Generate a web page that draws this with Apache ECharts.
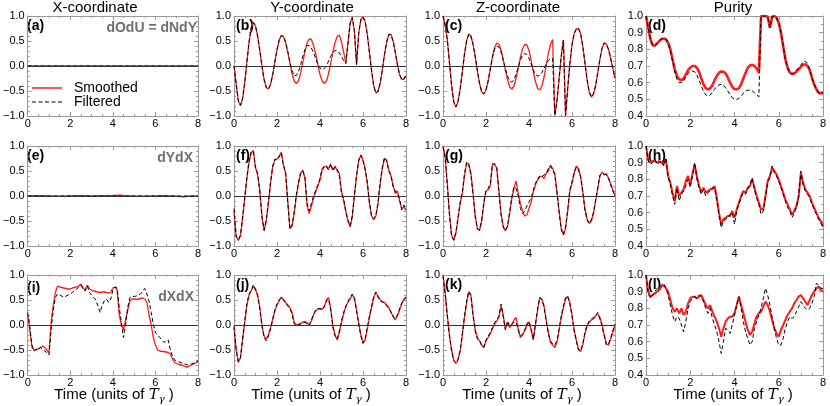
<!DOCTYPE html>
<html><head><meta charset="utf-8">
<script src="https://cdn.jsdelivr.net/npm/echarts@6/dist/echarts.min.js"></script>
<style>html,body{margin:0;padding:0;background:#fff}#c{width:830px;height:406px}</style>
</head><body><div id="c"></div>
<script>
// ---------- data ----------
const T = [0,0.1,0.2,0.3,0.4,0.5,0.6,0.7,0.8,0.9,1,1.1,1.2,1.3,1.4,1.5,1.6,1.7,1.8,1.9,2,2.1,2.2,2.3,2.4,2.5,2.6,2.7,2.8,2.9,3,3.1,3.2,3.3,3.4,3.5,3.6,3.7,3.8,3.9,4,4.1,4.2,4.3,4.4,4.5,4.6,4.7,4.8,4.9,5,5.1,5.2,5.3,5.4,5.5,5.6,5.7,5.8,5.9,6,6.1,6.2,6.3,6.4,6.5,6.6,6.7,6.8,6.9,7,7.1,7.2,7.3,7.4,7.5,7.6,7.7,7.8,7.9,8];
const T_ENDS = [0,8];
const TE = [0,0.5,1,1.5,2,2.5,3,3.5,4,4.3,4.6,5,5.5,6,6.5,7,7.3,7.6,8];

const COLUMN_TITLES = ['X-coordinate','Y-coordinate','Z-coordinate','Purity'];
const PANEL_LABELS = ['(a)','(b)','(c)','(d)','(e)','(f)','(g)','(h)','(i)','(j)','(k)','(l)'];
const ROW_NOTES = ['dOdU = dNdY','dYdX','dXdX'];
const LEGEND_NAMES = ['Smoothed','Filtered'];
const X_TICKS = [0,2,4,6,8];

// (a)
const A_S = [0,0];
const A_F = [0,0];
// (b)
const B_S = [0.00,-0.35,-0.70,-0.79,-0.65,-0.33,0.08,0.48,0.76,0.87,
 0.80,0.60,0.31,0.00,-0.27,-0.43,-0.46,-0.37,-0.17,0.08,
 0.32,0.52,0.61,0.59,0.47,0.28,0.06,-0.15,-0.30,-0.35,
 -0.30,-0.14,0.07,0.29,0.46,0.54,0.53,0.41,0.24,0.03,
 -0.17,-0.30,-0.35,-0.30,-0.15,0.06,0.28,0.47,0.59,0.62,
 0.48,0.28,0.06,0.45,0.85,0.97,0.70,0.03,0.65,0.93,
 0.98,0.89,0.63,0.27,-0.10,-0.40,-0.54,-0.51,-0.34,-0.07,
 0.23,0.48,0.63,0.63,0.50,0.28,0.03,-0.17,-0.27,-0.26,
 -0.20];
const B_F = [0.00,-0.35,-0.70,-0.79,-0.65,-0.33,0.08,0.48,0.76,0.87,
 0.80,0.60,0.31,0.00,-0.27,-0.43,-0.46,-0.37,-0.17,0.08,
 0.32,0.52,0.61,0.59,0.48,0.29,0.09,-0.09,-0.19,-0.19,
 -0.11,0.03,0.19,0.33,0.41,0.41,0.36,0.26,0.15,0.04,
 -0.04,-0.07,-0.05,0.01,0.10,0.19,0.27,0.31,0.31,0.26,
 0.19,0.11,0.05,0.45,0.85,0.97,0.70,0.03,0.65,0.93,
 0.98,0.89,0.63,0.27,-0.10,-0.40,-0.54,-0.51,-0.34,-0.07,
 0.23,0.48,0.63,0.63,0.50,0.28,0.03,-0.17,-0.27,-0.26,
 -0.20];
// (c)
const C_S = [1.00,0.82,0.53,0.07,-0.39,-0.72,-0.82,-0.71,-0.46,-0.11,
 0.24,0.51,0.64,0.60,0.43,0.18,-0.10,-0.35,-0.52,-0.56,
 -0.48,-0.30,-0.06,0.18,0.37,0.46,0.44,0.32,0.13,-0.08,
 -0.27,-0.42,-0.46,-0.40,-0.24,-0.04,0.17,0.34,0.43,0.42,
 0.31,0.11,-0.11,-0.31,-0.45,-0.48,-0.40,-0.22,0.01,0.25,
 0.43,0.53,-0.99,-0.70,-0.25,0.20,0.52,-0.99,-0.45,0.05,
 0.42,0.65,0.74,0.75,0.65,0.40,0.07,-0.27,-0.52,-0.62,
 -0.56,-0.39,-0.13,0.14,0.36,0.46,0.44,0.33,0.15,-0.05,
 -0.24];
const C_F = [1.00,0.82,0.53,0.07,-0.39,-0.72,-0.82,-0.71,-0.46,-0.11,
 0.24,0.51,0.64,0.60,0.43,0.18,-0.10,-0.35,-0.52,-0.56,
 -0.48,-0.30,-0.06,0.18,0.34,0.40,0.38,0.28,0.12,-0.05,
 -0.20,-0.30,-0.32,-0.28,-0.16,-0.02,0.12,0.22,0.25,0.23,
 0.15,0.04,-0.08,-0.17,-0.20,-0.19,-0.13,-0.05,0.04,0.11,
 0.15,0.15,-0.99,-0.70,-0.25,0.20,0.52,-0.99,-0.45,0.05,
 0.42,0.65,0.74,0.75,0.65,0.40,0.07,-0.27,-0.52,-0.62,
 -0.56,-0.39,-0.13,0.14,0.36,0.46,0.44,0.33,0.15,-0.05,
 -0.24];
// (d)
const D_S = [1.00,0.93,0.86,0.825,0.822,0.835,0.85,0.862,0.865,0.86,
 0.84,0.80,0.74,0.68,0.64,0.62,0.615,0.625,0.65,0.675,
 0.69,0.70,0.70,0.69,0.665,0.625,0.59,0.567,0.56,0.565,
 0.585,0.615,0.64,0.66,0.667,0.665,0.655,0.63,0.60,0.575,
 0.562,0.56,0.567,0.59,0.625,0.66,0.69,0.703,0.707,0.70,
 0.685,0.66,1.00,1.00,1.00,0.995,0.93,0.995,1.00,0.99,
 0.96,0.90,0.82,0.74,0.69,0.66,0.652,0.655,0.665,0.68,
 0.695,0.707,0.71,0.70,0.675,0.63,0.59,0.56,0.54,0.535,
 0.54];
const D_F = [1.00,0.93,0.86,0.825,0.822,0.835,0.85,0.862,0.865,0.86,
 0.835,0.79,0.73,0.665,0.62,0.60,0.60,0.61,0.635,0.655,
 0.668,0.67,0.665,0.645,0.615,0.58,0.55,0.527,0.52,0.525,
 0.54,0.56,0.577,0.587,0.59,0.585,0.57,0.55,0.527,0.51,
 0.502,0.50,0.505,0.52,0.537,0.55,0.555,0.555,0.55,0.54,
 0.527,0.515,1.00,1.00,1.00,0.995,0.93,0.995,1.00,0.99,
 0.96,0.90,0.82,0.74,0.69,0.66,0.652,0.66,0.675,0.69,
 0.705,0.725,0.73,0.715,0.68,0.63,0.59,0.56,0.54,0.535,
 0.54];
// (e)
const E_S = [0,0.005,0,-0.005,0,0.005,0,0.005,0.01,0.015,0.005,0,-0.005,0,0.005,-0.005,-0.015,-0.005,0];
const E_F = [0,0];
// (f)
const F_S = [-0.30,-0.80,-0.89,-0.80,-0.45,-0.05,0.35,0.68,0.86,0.91,
 0.58,0.42,0.12,-0.40,-0.70,-0.50,-0.15,0.25,0.58,0.72,
 0.74,0.78,0.88,0.62,0.45,-0.10,-0.65,-0.60,-0.35,0.00,
 0.25,0.45,0.52,0.35,-0.20,-0.35,-0.20,-0.05,0.08,0.20,
 0.32,0.52,0.58,0.60,0.55,0.62,0.52,0.60,0.50,0.45,
 0.10,-0.10,-0.30,-0.50,-0.62,-0.42,0.00,0.40,0.70,0.82,
 0.72,0.55,0.25,-0.15,-0.40,-0.48,-0.40,-0.15,0.25,0.55,
 0.75,0.72,0.52,0.40,0.22,0.05,0.10,-0.10,-0.25,-0.22,
 -0.28];
const F_F = [-0.25,-0.82,-0.87,-0.78,-0.42,-0.02,0.38,0.70,0.88,0.90,
 0.55,0.45,0.08,-0.42,-0.68,-0.48,-0.12,0.28,0.60,0.74,
 0.72,0.80,0.86,0.60,0.48,-0.12,-0.66,-0.58,-0.32,0.02,
 0.28,0.47,0.50,0.38,-0.15,-0.30,-0.15,0.00,0.12,0.22,
 0.35,0.55,0.60,0.58,0.52,0.65,0.50,0.58,0.55,0.40,
 0.05,-0.05,-0.32,-0.48,-0.60,-0.40,0.02,0.42,0.72,0.82,
 0.70,0.52,0.28,-0.12,-0.42,-0.45,-0.38,-0.12,0.28,0.58,
 0.77,0.70,0.50,0.42,0.18,0.10,0.05,-0.05,-0.28,-0.18,
 -0.25];
// (g)
const G_S = [1.00,0.80,0.25,-0.35,-0.78,-0.89,-0.75,-0.45,-0.15,0.05,
 0.40,0.66,0.64,0.45,0.05,-0.40,-0.65,-0.69,-0.50,-0.15,
 0.10,0.12,0.20,0.62,0.65,0.55,0.10,-0.35,-0.60,-0.70,
 -0.62,-0.35,-0.05,0.15,0.30,0.05,-0.15,-0.30,-0.40,-0.38,
 -0.25,-0.12,0.08,0.22,0.32,0.38,0.40,0.35,0.45,0.50,
 0.62,0.55,0.45,0.10,-0.30,-0.65,-0.77,-0.65,-0.30,0.10,
 0.25,0.45,0.60,0.55,0.40,0.10,-0.25,-0.45,-0.55,-0.50,
 -0.35,-0.10,0.15,0.40,0.48,0.42,0.45,0.35,0.25,0.12,
 0.00];
const G_F = [0.98,0.78,0.22,-0.38,-0.80,-0.88,-0.72,-0.42,-0.12,0.08,
 0.45,0.68,0.62,0.42,0.02,-0.42,-0.66,-0.68,-0.48,-0.12,
 0.12,0.15,0.25,0.65,0.62,0.58,0.08,-0.38,-0.62,-0.69,
 -0.60,-0.32,-0.02,0.18,0.15,0.00,-0.25,-0.35,-0.30,-0.20,
 -0.12,-0.05,0.12,0.25,0.35,0.40,0.38,0.42,0.45,0.55,
 0.60,0.52,0.42,0.05,-0.32,-0.68,-0.78,-0.62,-0.28,0.12,
 0.28,0.48,0.58,0.52,0.38,0.08,-0.28,-0.48,-0.55,-0.48,
 -0.32,-0.08,0.18,0.42,0.45,0.44,0.42,0.36,0.22,0.10,
 0.00];
// (h)
const H_S = [1.00,0.92,0.90,0.91,0.91,0.90,0.91,0.90,0.89,0.92,
 0.82,0.78,0.72,0.67,0.76,0.70,0.72,0.74,0.79,0.82,
 0.77,0.83,0.89,0.82,0.76,0.72,0.75,0.72,0.73,0.74,
 0.74,0.76,0.69,0.60,0.53,0.56,0.57,0.58,0.58,0.61,
 0.57,0.62,0.66,0.70,0.73,0.72,0.75,0.76,0.80,0.75,
 0.70,0.66,0.62,0.62,0.70,0.79,0.82,0.87,0.85,0.83,
 0.80,0.76,0.72,0.68,0.65,0.62,0.59,0.61,0.64,0.70,
 0.84,0.78,0.74,0.72,0.70,0.66,0.63,0.60,0.57,0.55,
 0.52];
const H_F = [1.00,0.91,0.89,0.90,0.92,0.89,0.90,0.91,0.88,0.93,
 0.81,0.77,0.70,0.65,0.75,0.67,0.71,0.73,0.76,0.80,
 0.75,0.82,0.90,0.80,0.75,0.71,0.74,0.70,0.72,0.73,
 0.75,0.75,0.67,0.58,0.51,0.55,0.56,0.57,0.59,0.60,
 0.53,0.61,0.65,0.69,0.72,0.71,0.74,0.77,0.81,0.74,
 0.69,0.65,0.59,0.61,0.69,0.78,0.81,0.88,0.84,0.82,
 0.79,0.75,0.71,0.67,0.63,0.61,0.57,0.60,0.63,0.69,
 0.85,0.77,0.73,0.71,0.69,0.65,0.62,0.59,0.56,0.54,
 0.51];
// (i)
const I_S = [0.20,-0.10,-0.45,-0.50,-0.50,-0.47,-0.45,-0.42,-0.45,-0.50,
 -0.55,0.05,0.40,0.65,0.78,0.76,0.75,0.74,0.73,0.72,
 0.72,0.74,0.75,0.76,0.78,0.82,0.74,0.70,0.80,0.72,
 0.70,0.68,0.67,0.66,0.65,0.66,0.66,0.65,0.64,0.66,
 0.74,0.76,0.70,0.20,0.00,-0.10,0.10,0.30,0.48,0.52,
 0.52,0.51,0.52,0.53,0.54,0.52,0.45,0.20,0.00,-0.25,
 -0.40,-0.50,-0.52,-0.53,-0.53,-0.54,-0.55,-0.58,-0.68,-0.75,
 -0.77,-0.79,-0.80,-0.81,-0.83,-0.84,-0.82,-0.80,-0.78,-0.76,
 -0.72];
const I_F = [0.25,-0.05,-0.40,-0.52,-0.48,-0.50,-0.45,-0.48,-0.52,-0.55,
 -0.60,-0.10,0.30,0.55,0.62,0.60,0.58,0.55,0.58,0.60,
 0.62,0.65,0.70,0.72,0.76,0.80,0.72,0.68,0.78,0.65,
 0.60,0.55,0.50,0.38,0.25,0.40,0.48,0.52,0.45,0.52,
 0.70,0.76,0.74,0.35,0.05,-0.25,0.00,0.35,0.55,0.57,
 0.57,0.58,0.60,0.62,0.68,0.73,0.62,0.48,0.25,0.02,
 -0.15,-0.20,-0.25,-0.30,-0.35,-0.32,-0.30,-0.50,-0.62,-0.70,
 -0.72,-0.74,-0.75,-0.78,-0.78,-0.80,-0.79,-0.78,-0.76,-0.74,
 -0.72];
// (j)
const J_S = [-0.05,-0.50,-0.75,-0.65,-0.30,0.05,0.40,0.60,0.68,0.78,
 0.72,0.60,0.35,0.00,-0.22,-0.28,-0.20,-0.05,0.12,0.28,
 0.40,0.48,0.56,0.50,0.45,0.40,0.35,0.25,0.05,0.00,
 0.02,0.03,0.06,0.07,0.05,0.00,0.08,0.20,0.28,0.32,
 0.33,0.32,0.36,0.50,0.55,0.32,-0.02,-0.20,-0.30,-0.15,
 0.05,0.22,0.38,0.45,0.52,0.60,0.55,0.30,0.05,-0.20,
 -0.35,-0.30,-0.08,0.15,0.35,0.55,0.65,0.58,0.50,0.47,
 0.45,0.40,0.35,0.25,0.18,0.10,0.18,0.30,0.42,0.50,
 0.56];
const J_F = [-0.02,-0.48,-0.73,-0.66,-0.28,0.08,0.42,0.62,0.70,0.80,
 0.70,0.58,0.32,-0.02,-0.25,-0.32,-0.22,-0.08,0.10,0.30,
 0.42,0.50,0.55,0.52,0.43,0.38,0.33,0.22,0.03,-0.02,
 0.00,0.02,0.04,0.05,0.03,-0.01,0.10,0.22,0.30,0.33,
 0.32,0.30,0.38,0.48,0.52,0.30,-0.05,-0.22,-0.28,-0.12,
 0.08,0.25,0.36,0.47,0.55,0.62,0.52,0.28,0.02,-0.22,
 -0.37,-0.28,-0.05,0.18,0.38,0.57,0.66,0.56,0.48,0.46,
 0.44,0.38,0.33,0.27,0.16,0.12,0.20,0.32,0.44,0.52,
 0.55];
// (k)
const K_S = [1.00,0.65,0.20,-0.20,-0.50,-0.70,-0.77,-0.70,-0.52,-0.20,
 0.15,0.45,0.65,0.60,0.20,-0.10,-0.25,-0.32,-0.40,-0.45,
 -0.32,-0.25,-0.18,-0.08,0.02,0.08,0.15,0.38,0.20,-0.08,
 0.05,-0.05,0.00,0.10,0.15,-0.08,-0.25,-0.20,-0.12,0.00,
 0.05,-0.10,-0.30,0.00,0.30,0.55,0.52,0.38,0.10,-0.15,
 -0.35,-0.40,-0.45,-0.35,-0.10,0.15,0.35,0.52,0.57,0.45,
 0.20,-0.10,-0.30,-0.48,-0.53,-0.40,-0.18,-0.02,0.05,0.10,
 0.12,0.18,0.22,0.15,0.00,-0.20,-0.38,-0.40,-0.28,-0.15,
 0.00];
const K_F = [0.98,0.62,0.18,-0.22,-0.52,-0.71,-0.76,-0.68,-0.50,-0.18,
 0.18,0.48,0.68,0.58,0.18,-0.12,-0.28,-0.30,-0.42,-0.44,
 -0.30,-0.22,-0.15,-0.05,0.05,0.10,0.18,0.42,0.18,-0.10,
 0.08,-0.02,0.02,0.05,0.05,-0.10,-0.22,-0.18,-0.10,0.02,
 0.08,-0.08,-0.28,0.02,0.32,0.55,0.50,0.36,0.08,-0.18,
 -0.32,-0.38,-0.40,-0.32,-0.08,0.18,0.38,0.55,0.58,0.42,
 0.18,-0.12,-0.32,-0.50,-0.52,-0.38,-0.15,0.00,0.08,0.12,
 0.15,0.20,0.25,0.12,-0.02,-0.22,-0.40,-0.38,-0.25,-0.12,
 0.02];
// (l)
const L_S = [1.00,0.90,0.87,0.88,0.89,0.90,0.91,0.93,0.94,0.92,
 0.90,0.85,0.80,0.78,0.80,0.77,0.80,0.76,0.78,0.83,
 0.86,0.87,0.87,0.86,0.87,0.88,0.85,0.82,0.80,0.82,
 0.78,0.75,0.72,0.68,0.63,0.68,0.72,0.74,0.75,0.75,
 0.77,0.82,0.87,0.82,0.77,0.72,0.67,0.64,0.66,0.71,
 0.75,0.77,0.78,0.81,0.84,0.82,0.78,0.73,0.68,0.65,
 0.63,0.67,0.70,0.73,0.76,0.78,0.80,0.83,0.85,0.87,
 0.88,0.86,0.84,0.82,0.85,0.88,0.90,0.92,0.93,0.91,
 0.90];
const L_F = [1.00,0.89,0.86,0.88,0.90,0.92,0.93,0.94,0.95,0.92,
 0.88,0.82,0.76,0.72,0.75,0.74,0.70,0.66,0.72,0.80,
 0.84,0.86,0.87,0.86,0.88,0.87,0.84,0.80,0.77,0.80,
 0.74,0.70,0.66,0.60,0.53,0.60,0.68,0.67,0.65,0.70,
 0.76,0.82,0.87,0.80,0.72,0.66,0.62,0.58,0.60,0.68,
 0.72,0.76,0.80,0.86,0.92,0.88,0.82,0.75,0.68,0.62,
 0.58,0.58,0.62,0.68,0.72,0.75,0.74,0.75,0.78,0.81,
 0.84,0.82,0.80,0.79,0.80,0.83,0.87,0.95,0.94,0.92,
 0.92];

// ---------- layout / style ----------
const FONT = 'Liberation Sans, Arial, Helvetica, sans-serif';
const FRAME = '#9a9a9a';
const RED = '#ff1c1c';
const COL_L = [25, 234, 443, 646];
const COL_W = [173, 172, 172, 177];
const ROW_T = [16, 146, 275];
const ROW_H = 100;
const TITLE_X = [95, 312, 518, 733];
const XNAME_X = [114, 311, 522, 733];

const PANELS = [
  {ts:T_ENDS,s:A_S,tf:T_ENDS,f:A_F},{ts:T,s:B_S,tf:T,f:B_F},{ts:T,s:C_S,tf:T,f:C_F},{ts:T,s:D_S,tf:T,f:D_F},
  {ts:TE,s:E_S,tf:T_ENDS,f:E_F},{ts:T,s:F_S,tf:T,f:F_F},{ts:T,s:G_S,tf:T,f:G_F},{ts:T,s:H_S,tf:T,f:H_F},
  {ts:T,s:I_S,tf:T,f:I_F},{ts:T,s:J_S,tf:T,f:J_F},{ts:T,s:K_S,tf:T,f:K_F},{ts:T,s:L_S,tf:T,f:L_F}
];
const pairs = (t, v) => v.map((y, i) => [t[i], y]);
const yFmt = v => (v < -1e-9 ? '\u2212' : '') + Math.abs(v).toFixed(1);

const grid = [], xAxis = [], yAxis = [], series = [], graphic = [];
PANELS.forEach((p, k) => {
  const r = Math.floor(k / 4), c = k % 4;
  const purity = c === 3;
  grid.push({left: COL_L[c], top: ROW_T[r], width: COL_W[c], height: ROW_H});
  const line = {onZero: false, lineStyle: {color: FRAME, width: 1}};
  const tick = {inside: true, length: 4, lineStyle: {color: FRAME, width: 1}};
  const xBase = {gridIndex: k, type: 'value', min: X_TICKS[0], max: X_TICKS[X_TICKS.length - 1], interval: 2,
    axisLine: line, axisTick: tick, splitLine: {show: false},
    minorTick: {show: true, splitNumber: 4, length: 2, lineStyle: {color: FRAME}}};
  xAxis.push(Object.assign({}, xBase, {position: 'bottom',
    axisLabel: {margin: 2, fontSize: 11, color: '#000', fontFamily: FONT, formatter: v => String(Math.round(v))}}));
  xAxis.push(Object.assign({}, xBase, {position: 'top', axisLabel: {show: false}}));
  const yBase = {gridIndex: k, type: 'value', min: purity ? 0.4 : -1, max: 1, interval: purity ? 0.1 : 0.5,
    axisLine: line, axisTick: tick, splitLine: {show: false},
    minorTick: {show: true, splitNumber: purity ? 2 : 5, length: 2, lineStyle: {color: FRAME}}};
  yAxis.push(Object.assign({}, yBase, {position: 'left',
    axisLabel: {margin: 3, fontSize: 11, color: '#000', fontFamily: FONT, formatter: yFmt}}));
  yAxis.push(Object.assign({}, yBase, {position: 'right', axisLabel: {show: false}}));

  const redW = purity ? (r === 0 ? 2.6 : 2) : 1.3;
  const red = {type: 'line', name: LEGEND_NAMES[0], xAxisIndex: 2 * k, yAxisIndex: 2 * k,
    data: pairs(p.ts, p.s), showSymbol: false, symbol: 'none', z: 3,
    lineStyle: {color: RED, width: redW}};
  if (!purity) {
    red.markLine = {silent: true, symbol: 'none', label: {show: false}, animation: false,
      lineStyle: {color: '#333', width: 1, type: 'solid'}, data: [{yAxis: 0}]};
  }
  series.push(red);
  series.push({type: 'line', name: LEGEND_NAMES[1], xAxisIndex: 2 * k, yAxisIndex: 2 * k,
    data: pairs(p.tf, p.f), showSymbol: false, symbol: 'none', z: 4,
    lineStyle: {color: '#000', width: 1, type: [4, 2.5]}});

  graphic.push({type: 'text', left: COL_L[c] + 2, top: ROW_T[r] + (r === 2 && c === 0 ? 6 : 3),
    style: {text: PANEL_LABELS[k], font: 'bold 14px ' + FONT, fill: '#000'}});
});

COLUMN_TITLES.forEach((t, c) => graphic.push({type: 'text', x: TITLE_X[c], y: 8,
  style: {text: t, font: '15px ' + FONT, fill: '#000', align: 'center', verticalAlign: 'middle'}}));

const noteY = [28, 158, 297], noteR = [197, 193, 194];
ROW_NOTES.forEach((t, r) => graphic.push({type: 'text', x: noteR[r], y: noteY[r],
  style: {text: t, font: 'bold 14px ' + FONT, fill: '#707070', align: 'right', verticalAlign: 'middle'}}));

XNAME_X.forEach(x => graphic.push({type: 'text', x: x, y: 395,
  style: {text: '{n|Time (units of }{i|T}{s|\u03b3}{n| )}', align: 'center', verticalAlign: 'middle',
    rich: {n: {fontSize: 15, fontFamily: FONT, lineHeight: 18, verticalAlign: 'middle'},
           i: {fontSize: 15, fontFamily: 'DejaVu Serif', fontStyle: 'italic', lineHeight: 18, verticalAlign: 'middle'},
           s: {fontSize: 10, fontFamily: 'DejaVu Serif', fontStyle: 'italic', lineHeight: 18, verticalAlign: 'bottom'}}}}));

// legend in panel (a)
graphic.push({type: 'line', shape: {x1: 32, y1: 88, x2: 62, y2: 88}, style: {stroke: RED, lineWidth: 1.5}});
graphic.push({type: 'line', shape: {x1: 32, y1: 102, x2: 62, y2: 102}, style: {stroke: '#000', lineWidth: 1.2, lineDash: [4, 2.5]}});
graphic.push({type: 'text', x: 74, y: 88, style: {text: LEGEND_NAMES[0], font: '14px ' + FONT, fill: '#000', verticalAlign: 'middle'}});
graphic.push({type: 'text', x: 74, y: 102, style: {text: LEGEND_NAMES[1], font: '14px ' + FONT, fill: '#000', verticalAlign: 'middle'}});

const chart = echarts.init(document.getElementById('c'), null, {renderer: 'canvas'});
chart.setOption({animation: false, backgroundColor: '#fff', textStyle: {fontFamily: FONT},
  grid, xAxis, yAxis, series, graphic});
</script></body></html>
